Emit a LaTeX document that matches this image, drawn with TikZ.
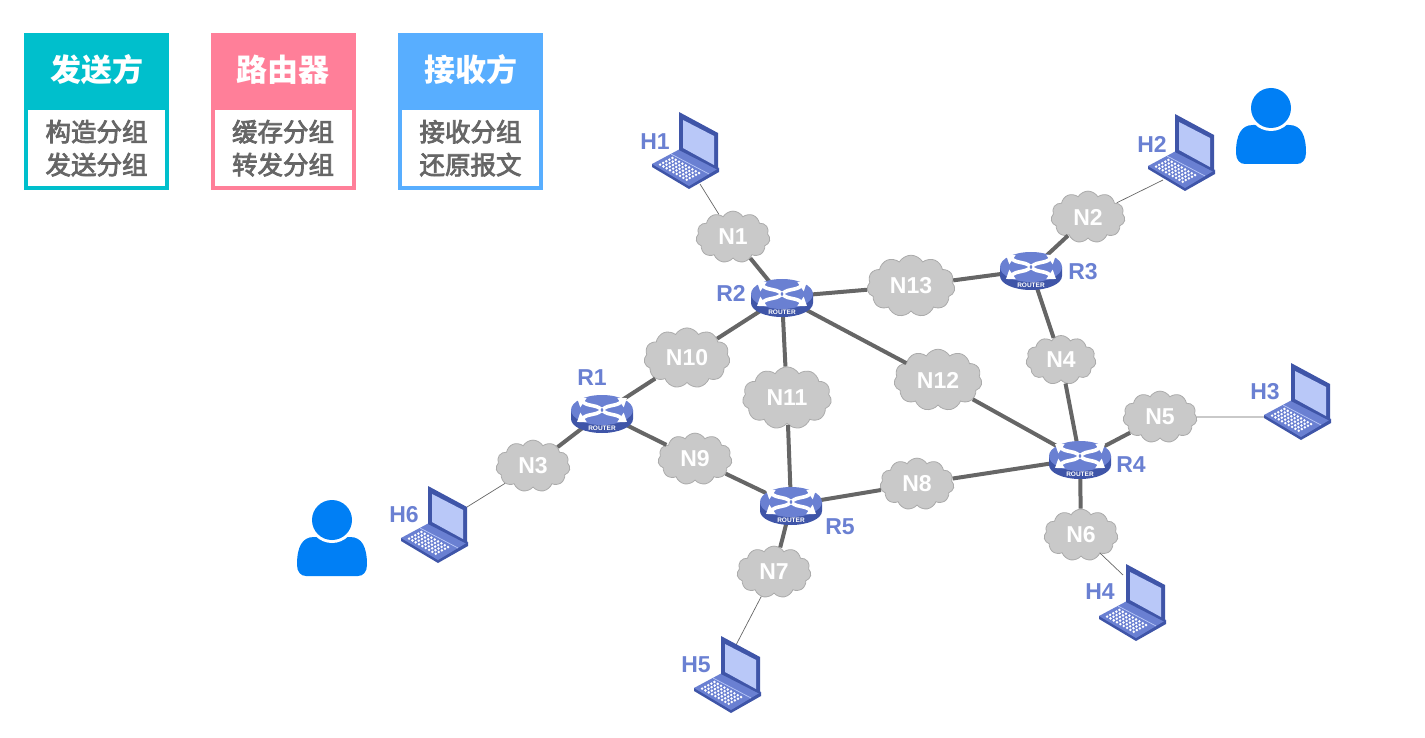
\documentclass[tikz,border=0pt]{standalone}
\usepackage{fontspec}
\setmainfont{Liberation Sans}
\newfontfamily\cjkbold{Noto Sans CJK SC}
\newfontfamily\cjkmid[RawFeature={embolden=3}]{Noto Sans CJK SC}
\usepackage{tikz}
\usetikzlibrary{positioning,shapes.symbols,shapes.geometric,arrows.meta}

\definecolor{senderteal}{HTML}{00BFCC}
\definecolor{routerpink}{HTML}{FF7F99}
\definecolor{receiverblue}{HTML}{58AEFF}
\definecolor{bodygray}{HTML}{666666}
\definecolor{netblue}{HTML}{6A80D2}
\definecolor{darkblue}{HTML}{3F55A8}
\definecolor{screenblue}{HTML}{B9C8F8}
\definecolor{cloudgray}{HTML}{C9C9C9}
\definecolor{cloudedge}{HTML}{ABABAB}
\definecolor{linkgray}{HTML}{666666}
\definecolor{personblue}{HTML}{007FF5}

\tikzset{
laptop/.pic={
  \fill[darkblue] (-33,14) -- (-33,17) -- (4,39) -- (34,22) -- (34,18) -- cycle;
  \fill[netblue] (-33,14) -- (4,36) -- (34,18) -- (-5,-1) -- cycle;
  \foreach \i in {0,...,8}{
    \foreach \j in {0,...,4}{
      \pgfmathsetmacro{\u}{.12+.09*\i}
      \pgfmathsetmacro{\v}{.13+.11*\j}
      \fill[white] ({-33+37*\u+28*\v},{14+21*\u-15*\v}) circle (1.4);
    }
  }
  \draw[screenblue,line width=.7pt] (-14,4) -- (24,24);
  \fill[darkblue] (-6,-38) -- (33,-17) -- (33,20) -- (-6,0) -- cycle;
  \fill[screenblue] (-2,-30) -- (29,-14) -- (29,15) -- (-2,-2) -- cycle;
},
routericon/.pic={
  \fill[darkblue] (-31,-3) -- (-31,6) arc[start angle=180,end angle=0,x radius=31,y radius=14] -- (31,-3) -- cycle;
  \fill[netblue] (0,-3) ellipse[x radius=31,y radius=15];
  \foreach \sx/\sy in {-1/-1,1/-1,-1/1,1/1}{
    \draw[white,line width=3.6pt,-{Triangle[length=8pt,width=11pt]}]
      ({\sx*1},{-3+\sy*1}) .. controls ({\sx*8},{-3+\sy*6}) and ({\sx*12},{-3+\sy*3}) .. ({\sx*25},{-3+\sy*12});
  }
  \node[white,font=\bfseries\fontsize{6.5}{6.5}\selectfont,inner sep=0pt] at (0,15) {ROUTER};
},
personicon/.pic={
  \fill[personblue] (-35,46) .. controls (-35,28) and (-30,18) .. (-18,18) -- (18,18)
    .. controls (30,18) and (35,28) .. (35,46) .. controls (35,53) and (31,57) .. (26,57)
    -- (-26,57) .. controls (-31,57) and (-35,53) .. (-35,46) -- cycle;
  \fill[white] (0,1) circle (23);
  \fill[personblue] (0,1) circle (20);
},
}

\begin{document}
\begin{tikzpicture}[
x=1pt,y=-1pt,
headbox/.style={rectangle, minimum width=145pt, minimum height=73pt, inner sep=0pt, text=white, font=\cjkbold\bfseries\fontsize{31}{31}\selectfont},
bodybox/.style={rectangle, draw=#1, line width=4pt, fill=white, minimum width=141pt, minimum height=80pt, inner sep=0pt, text=bodygray, align=center, font=\cjkmid\fontsize{25.5}{33}\selectfont},
cloudnode/.style={cloud, cloud puffs=11, cloud puff arc=120, aspect=1.35, draw=cloudedge, fill=cloudgray, line width=.8pt, minimum width=#1, minimum height=.7*#1, inner sep=0pt, text=white, font=\bfseries\fontsize{23}{23}\selectfont},
routernode/.style={ellipse, minimum width=50pt, minimum height=26pt, inner sep=0pt},
blueword/.style={text=netblue, inner sep=0pt, font=\bfseries\fontsize{23}{23}\selectfont},
biglink/.style={draw=linkgray, line width=4pt},
thinlink/.style={draw=linkgray, line width=.7pt},
]
\useasboundingbox (0,0) rectangle (1425,738);

%Boxes
\node[headbox, fill=senderteal]   (Send)  at (96.5,69.5) {\raisebox{-4pt}{发送方}};
\node[bodybox=senderteal, below=0pt of Send]   (SendB)  {构造分组\\发送分组};
\node[headbox, fill=routerpink]   (Route) at (283,69.5) {\raisebox{-4pt}{路由器}};
\node[bodybox=routerpink, below=0pt of Route]  (RouteB) {缓存分组\\转发分组};
\node[headbox, fill=receiverblue] (Recv)  at (470.5,69.5) {\raisebox{-4pt}{接收方}};
\node[bodybox=receiverblue, below=0pt of Recv] (RecvB)  {接收分组\\还原报文};

%Clouds
\node[cloudnode=74pt]  (N1)  at (733,237) {N1};
\node[cloudnode=74pt]  (N2)  at (1088,217) {N2};
\node[cloudnode=74pt]  (N3)  at (533,466) {N3};
\node[cloudnode=70pt]  (N4)  at (1061,360) {N4};
\node[cloudnode=74pt]  (N5)  at (1160,417) {N5};
\node[cloudnode=74pt]  (N6)  at (1081,535) {N6};
\node[cloudnode=74pt]  (N7)  at (774,572) {N7};
\node[cloudnode=74pt]  (N8)  at (917,484) {N8};
\node[cloudnode=74pt]  (N9)  at (695,459) {N9};
\node[cloudnode=86pt]  (N10) at (687,358) {N10};
\node[cloudnode=89pt]  (N11) at (787,398) {N11};
\node[cloudnode=88pt]  (N12) at (938,380) {N12};
\node[cloudnode=88pt]  (N13) at (911,286) {N13};

%Routers
\node[routernode] (R1) at (602,413) {};
\node[routernode] (R2) at (782,297) {};
\node[routernode] (R3) at (1031,270) {};
\node[routernode] (R4) at (1080,459) {};
\node[routernode] (R5) at (791,505) {};

%Laptop ends
\coordinate (H1end) at (700,184);
\coordinate (H2end) at (1163,180);
\coordinate (H3end) at (1264,417);
\coordinate (H4end) at (1123,575);
\coordinate (H5end) at (736,645);
\coordinate (H6end) at (467,507);

%Lines
\draw[biglink] (N1) -- (R2);
\draw[biglink] (N2) -- (R3);
\draw[biglink] (N3) -- (R1);
\draw[biglink] (R3) -- (N4);
\draw[biglink] (N4) -- (R4);
\draw[biglink] (N5) -- (R4);
\draw[biglink] (R4) -- (N6);
\draw[biglink] (R5) -- (N7);
\draw[biglink] (R5) -- (N8);
\draw[biglink] (N8) -- (R4);
\draw[biglink] (R1) -- (N9);
\draw[biglink] (N9) -- (R5);
\draw[biglink] (R1) -- (N10);
\draw[biglink] (N10) -- (R2);
\draw[biglink] (R2) -- (N11);
\draw[biglink] (N11) -- (R5);
\draw[biglink] (R2) -- (N12);
\draw[biglink] (N12) -- (R4);
\draw[biglink] (R2) -- (N13);
\draw[biglink] (N13) -- (R3);
\draw[thinlink] (N1) -- (H1end);
\draw[thinlink] (N2) -- (H2end);
\draw[thinlink] (N5) -- (H3end);
\draw[thinlink] (N6) -- (H4end);
\draw[thinlink] (N7) -- (H5end);
\draw[thinlink] (N3) -- (H6end);

%Icons
\pic at (602,413) {routericon};
\pic at (782,297) {routericon};
\pic at (1031,270) {routericon};
\pic at (1080,459) {routericon};
\pic at (791,505) {routericon};
\pic at (685,150) {laptop};
\pic at (1181,152) {laptop};
\pic at (1297,401) {laptop};
\pic at (1132,602) {laptop};
\pic at (727,674) {laptop};
\pic at (434,524) {laptop};
\pic at (1271,107) {personicon};
\pic at (332,519) {personicon};

%Labels
\node[blueword] (R1t) at (592,378) {R1};
\node[blueword] (R2t) at (731,293) {R2};
\node[blueword] (R3t) at (1083,272) {R3};
\node[blueword] (R4t) at (1131,465) {R4};
\node[blueword] (R5t) at (840,527) {R5};
\node[blueword] (H1t) at (655,142) {H1};
\node[blueword] (H2t) at (1152,144) {H2};
\node[blueword] (H3t) at (1265,392) {H3};
\node[blueword] (H4t) at (1100,592) {H4};
\node[blueword] (H5t) at (696,665) {H5};
\node[blueword] (H6t) at (404,515) {H6};

\end{tikzpicture}
\end{document}
